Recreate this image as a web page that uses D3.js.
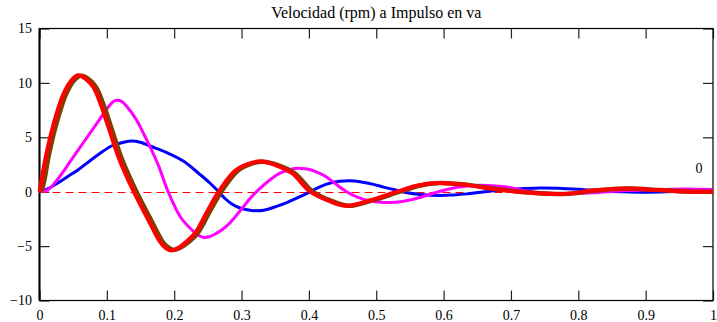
<!DOCTYPE html>
<html>
<head>
<meta charset="utf-8">
<script src="https://cdn.jsdelivr.net/npm/d3@7"></script>
<style>
  body { margin: 0; background: #fff; }
  svg text { font-family: "Liberation Serif", "DejaVu Serif", serif; }
</style>
</head>
<body>
<div id="chart"></div>
<script>
// values, [t, velocity]
var blueData = [[0,0],[0.012,0.25],[0.027,0.8],[0.042,1.4],[0.057,2.0],[0.072,2.7],[0.087,3.4],
  [0.107,4.2],[0.125,4.55],[0.139,4.65],[0.152,4.5],[0.164,4.2],[0.189,3.6],[0.214,2.8],[0.238,1.6],
  [0.253,0.8],[0.266,0],[0.275,-0.6],[0.285,-1.1],[0.298,-1.5],[0.315,-1.72],[0.333,-1.7],
  [0.352,-1.35],[0.367,-1.0],[0.382,-0.6],[0.402,0],[0.418,0.5],[0.432,0.8],[0.446,0.95],[0.46,1.0],
  [0.476,0.92],[0.496,0.67],[0.512,0.4],[0.526,0.2],[0.546,-0.1],[0.565,-0.25],[0.595,-0.35],
  [0.615,-0.3],[0.635,-0.2],[0.655,-0.05],[0.694,0.2],[0.72,0.3],[0.744,0.35],[0.77,0.32],
  [0.8,0.22],[0.83,0.08],[0.862,0],[0.9,-0.05],[0.95,0.03],[1,0.1]];

var magentaData = [[0,0],[0.013,0.2],[0.03,1.4],[0.047,2.9],[0.065,4.5],[0.082,6.0],[0.1,7.6],
  [0.108,8.2],[0.114,8.4],[0.122,8.3],[0.13,7.8],[0.144,6.6],[0.154,5.4],[0.166,3.9],[0.177,2.35],
  [0.191,0],[0.209,-2.3],[0.226,-3.5],[0.237,-4.05],[0.245,-4.2],[0.253,-4.12],[0.262,-3.85],
  [0.272,-3.45],[0.283,-2.85],[0.298,-1.75],[0.313,-0.6],[0.323,0.05],[0.342,1.08],[0.357,1.7],
  [0.37,2.0],[0.382,2.15],[0.395,2.1],[0.41,1.85],[0.425,1.4],[0.44,0.7],[0.456,0],[0.472,-0.5],
  [0.491,-0.86],[0.507,-0.98],[0.521,-1.0],[0.538,-0.9],[0.555,-0.7],[0.572,-0.4],[0.59,-0.05],
  [0.605,0.2],[0.62,0.4],[0.638,0.55],[0.655,0.6],[0.672,0.55],[0.69,0.45],[0.705,0.3],[0.72,0.1],
  [0.745,-0.1],[0.773,-0.2],[0.82,-0.1],[0.87,0.1],[0.92,0.2],[0.96,0.25],[1,0.2]];

var brownData = [[0,0],[0.004,0.3],[0.014,3.4],[0.024,6.0],[0.039,8.9],[0.051,10.2],[0.061,10.65],
  [0.072,10.4],[0.084,9.6],[0.095,8.0],[0.106,6.0],[0.123,2.9],[0.144,0],[0.164,-2.4],[0.184,-4.7],
  [0.193,-5.2],[0.2,-5.35],[0.209,-5.15],[0.222,-4.6],[0.235,-3.8],[0.254,-1.7],[0.27,0],
  [0.294,1.9],[0.314,2.55],[0.332,2.75],[0.354,2.45],[0.379,1.7],[0.406,0],[0.434,-0.85],
  [0.459,-1.3],[0.494,-0.8],[0.535,0],[0.564,0.55],[0.594,0.8],[0.634,0.65],[0.684,0.2],
  [0.734,-0.1],[0.784,-0.2],[0.824,0.1],[0.872,0.3],[0.922,0.15],[0.97,0],[1,0]];

var redData = [[0,0],[0.01,3.4],[0.02,6.0],[0.035,8.9],[0.047,10.2],[0.057,10.7],[0.068,10.4],
  [0.08,9.6],[0.091,8.0],[0.102,6.0],[0.119,2.9],[0.14,0],[0.16,-2.4],[0.18,-4.7],[0.189,-5.25],
  [0.196,-5.4],[0.205,-5.2],[0.218,-4.6],[0.231,-3.8],[0.25,-1.7],[0.266,0],[0.29,1.9],[0.31,2.55],
  [0.328,2.8],[0.35,2.45],[0.375,1.7],[0.402,0],[0.43,-0.85],[0.455,-1.3],[0.49,-0.8],[0.531,0],
  [0.56,0.55],[0.59,0.8],[0.63,0.65],[0.68,0.2],[0.73,-0.1],[0.78,-0.2],[0.82,0.1],[0.87,0.3],
  [0.92,0.15],[0.97,0],[1,0]];

var xTicks = [0,0.1,0.2,0.3,0.4,0.5,0.6,0.7,0.8,0.9,1];
var yTicks = [-10,-5,0,5,10,15];
var title = "Velocidad (rpm) a Impulso en va";
var traceLabel = "0";

var W = 717, H = 322;
var svg = d3.select("#chart").append("svg")
  .attr("width", W).attr("height", H);

var x = d3.scaleLinear().domain([0,1]).range([39.5, 713]);
var y = d3.scaleLinear().domain([-10,15]).range([300.5, 28.5]);

// title
svg.append("text")
  .attr("x", (x(0)+x(1))/2).attr("y", 18)
  .attr("text-anchor", "middle")
  .attr("font-size", 16)
  .text(title);

// axes, ticks point inside the box
var leftAxis = svg.append("g").attr("transform", "translate(" + x(0) + ",0)")
  .call(d3.axisLeft(y).tickValues(yTicks).tickSizeInner(-10).tickSizeOuter(0)
    .tickPadding(7.5).tickFormat(d3.format("d")));
var rightAxis = svg.append("g").attr("transform", "translate(" + x(1) + ",0)")
  .call(d3.axisRight(y).tickValues(yTicks).tickSizeInner(-10).tickSizeOuter(0).tickFormat(""));
var bottomAxis = svg.append("g").attr("transform", "translate(0," + y(-10) + ")")
  .call(d3.axisBottom(x).tickValues(xTicks).tickSizeInner(-10).tickSizeOuter(0)
    .tickPadding(9.5).tickFormat(function(d){ return String(d); }));
var topAxis = svg.append("g").attr("transform", "translate(0," + y(15) + ")")
  .call(d3.axisTop(x).tickValues(xTicks).tickSizeInner(-10).tickSizeOuter(0).tickFormat(""));

[leftAxis, rightAxis, bottomAxis, topAxis].forEach(function(g){
  g.attr("font-family", null);
  g.select(".domain").remove();
  g.selectAll(".tick line").attr("stroke", "#222").attr("stroke-width", 1.2);
  g.selectAll(".tick text").attr("fill", "#000").attr("font-size", 14);
});

// frame
svg.append("rect")
  .attr("x", x(0)).attr("y", y(15))
  .attr("width", x(1)-x(0)).attr("height", y(-10)-y(15))
  .attr("fill", "none").attr("stroke", "#000").attr("stroke-width", 1.2);
svg.append("line")
  .attr("x1", x(0)).attr("x2", x(0)).attr("y1", y(15)).attr("y2", y(-10))
  .attr("stroke", "#000").attr("stroke-width", 2);

// zero reference, snapped to a pixel row so it stays bright red
var y0 = Math.round(y(0)) + 0.5;
svg.append("line")
  .attr("x1", x(0)).attr("x2", x(1)).attr("y1", y0).attr("y2", y0)
  .attr("stroke", "#ff0000").attr("stroke-width", 1)
  .attr("stroke-dasharray", "8,5");

var line = d3.line()
  .x(function(d){ return x(d[0]); })
  .y(function(d){ return y(d[1]); })
  .curve(d3.curveCatmullRom.alpha(0.5));

var series = [
  {data: blueData, color: "#0000ff", w: 3},
  {data: magentaData, color: "#ff00ff", w: 3},
  {data: brownData, color: "#7f3f00", w: 4.5},
  {data: redData, color: "#ff0000", w: 4}
];

svg.selectAll(".trace")
  .data(series)
  .enter().append("path")
  .attr("class", "trace")
  .attr("d", function(d){ return line(d.data); })
  .attr("fill", "none")
  .attr("stroke", function(d){ return d.color; })
  .attr("stroke-width", function(d){ return d.w; })
  .attr("stroke-linejoin", "round");

svg.append("text")
  .attr("x", 699).attr("y", 173)
  .attr("text-anchor", "middle")
  .attr("font-size", 14)
  .text(traceLabel);
</script>
</body>
</html>
